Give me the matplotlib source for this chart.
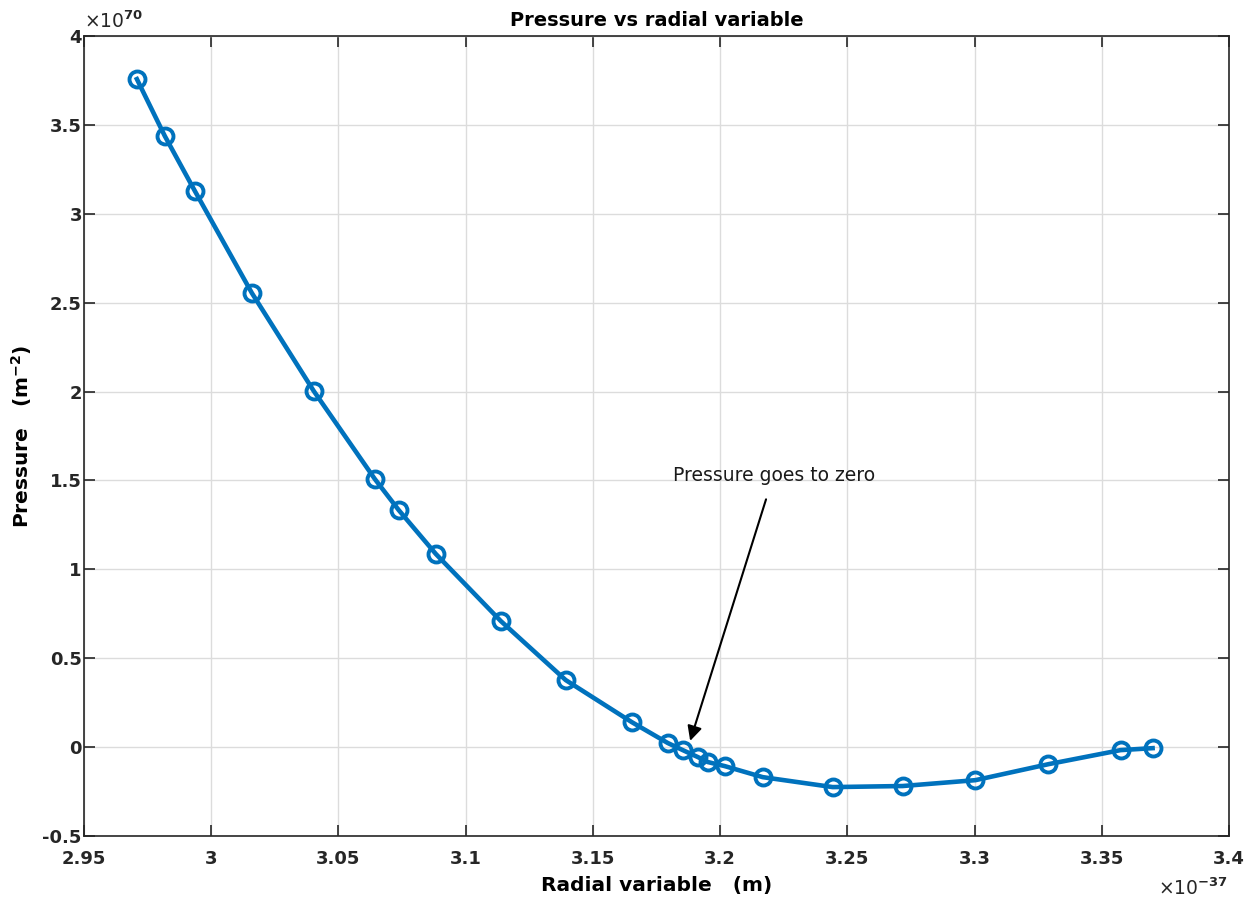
import matplotlib
matplotlib.use("Agg")
import matplotlib.pyplot as plt
from matplotlib.ticker import FuncFormatter, MultipleLocator

# radial variable in units of 1e-37 m, pressure in units of 1e70 m^-2
radial = [2.9708, 2.9818, 2.9936, 3.0160, 3.0403, 3.0643, 3.0737, 3.0883,
          3.1138, 3.1393, 3.1652, 3.1794, 3.1853, 3.1912, 3.1951, 3.2018,
          3.2167, 3.2442, 3.2717, 3.3003, 3.3290, 3.3573, 3.3699]
pressure = [3.758, 3.437, 3.128, 2.554, 2.003, 1.508, 1.333, 1.086,
            0.709, 0.377, 0.141, 0.023, -0.017, -0.056, -0.084, -0.107,
            -0.169, -0.225, -0.219, -0.186, -0.096, -0.017, -0.006]

plt.rcParams['font.family'] = ['DejaVu Sans']
plt.rcParams['mathtext.fontset'] = 'dejavusans'

fig = plt.figure(figsize=(12.53, 9.02), dpi=100)
ax = fig.add_axes([0.067, 0.0732, 0.914, 0.8868])

ax.plot(radial, pressure, '-o', color='#0072BD', lw=3.3, ms=11.5,
        mfc='none', mew=2.8, zorder=3)

ax.set_xlim(2.95, 3.4)
ax.set_ylim(-0.5, 4)
ax.xaxis.set_major_locator(MultipleLocator(0.05))
ax.yaxis.set_major_locator(MultipleLocator(0.5))
fmt = FuncFormatter(lambda v, p: ('%g' % round(v, 4)))
ax.xaxis.set_major_formatter(fmt)
ax.yaxis.set_major_formatter(fmt)

ax.grid(True, color='#dcdcdc', lw=1.0)
ax.set_axisbelow(True)
ax.tick_params(direction='in', length=8, width=1.2, top=True, right=True,
               labelsize=13, colors='#262626')
ax.tick_params(axis='x', pad=10)
ax.tick_params(axis='y', pad=1.5)
for lab in ax.get_xticklabels() + ax.get_yticklabels():
    lab.set_fontweight('bold')
for s in ax.spines.values():
    s.set_color('#262626')
    s.set_linewidth(1.2)

ax.set_xlabel('Radial variable   (m)', fontsize=14.5, fontweight='bold', labelpad=6)
ax.set_ylabel(r'Pressure   (m$^{\mathbf{-2}}$)', fontsize=14.5, fontweight='bold', labelpad=6)
ax.set_title('Pressure vs radial variable', fontsize=14, fontweight='bold', pad=7)

ax.text(0.0, 1.005, r'$\times$10$^{\mathbf{70}}$', transform=ax.transAxes, fontsize=13.5,
        ha='left', va='bottom', color='#262626')
ax.text(0.999, -0.052, r'$\times$10$^{\mathbf{-37}}$', transform=ax.transAxes, fontsize=13.5,
        ha='right', va='top', color='#262626')

ax.annotate('Pressure goes to zero', xy=(3.1882, 0.035), xytext=(3.221, 1.53),
            fontsize=13.5, ha='center', va='center', color='#1a1a1a',
            arrowprops=dict(arrowstyle='-|>', color='black', lw=1.5,
                            mutation_scale=22, shrinkA=9, shrinkB=0))

fig.savefig('out.png', dpi=100, facecolor='white')
